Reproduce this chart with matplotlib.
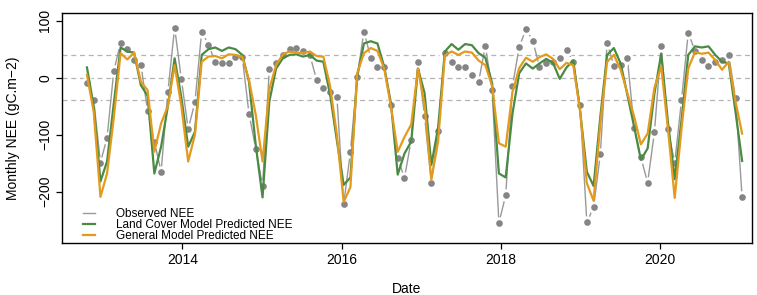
import numpy as np
import pandas as pd
import matplotlib.pyplot as plt

plt.rcParams['font.family'] = ['Liberation Sans', 'DejaVu Sans']

# one value per 31-day step, starting late Oct 2012
start = "2012-10-20"
step_days = 31
obs = [-9, -39, -149, -105, 12, 61, 51, 31, 23, -58, -112, -165, -25, 88, -3,
       -90, -43, 81, 58, 28, 25, 26, 37, 37, -63, -125, -190, 15, 25, 40,
       51, 52, 46, 40, -4, -18, -25, -33, -222, -130, 2, 81, 35, 18, 19,
       -48, -141, -176, -109, 27, -68, -184, -93, 44, 28, 19, 18, 5, -7, 56,
       -22, -255, -206, -15, 54, 85, 65, 19, 25, 27, 35, 49, 28, -48, -254,
       -227, -134, 61, 21, 22, 34, -88, -140, -184, -96, 56, -90, -150, -40, 79,
       47, 31, 21, 28, 31, 40, -36, -210]
lc_pred = [18, -50, -182, -147, -45, 53, 46, 44, -13, -32, -168, -121, -50, 34, -35,
           -121, -95, 40, 50, 53, 47, 53, 50, 40, -7, -118, -210, -42, 16, 34,
           40, 41, 37, 40, 30, 28, -30, -110, -188, -175, 2, 60, 64, 60, 19,
           -45, -170, -133, -112, 16, -27, -153, -88, 46, 59, 49, 59, 57, 43, 35,
           -10, -168, -175, -63, 8, 25, 16, 25, 33, 26, -2, 18, 30, -57, -165,
           -190, -68, 40, 52, 25, -30, -86, -144, -124, -28, 42, -78, -178, -75, 40,
           55, 53, 55, 40, 28, 25, -60, -146]
gm_pred = [5, -60, -209, -168, -70, 43, 32, 44, -7, -22, -130, -80, -50, 22, -50,
           -147, -100, 28, 37, 38, 34, 41, 40, 37, -4, -65, -147, -20, 22, 41,
           46, 44, 43, 46, 38, 37, -15, -100, -218, -192, 8, 43, 52, 47, 16,
           -51, -130, -104, -82, 16, -48, -179, -112, 39, 46, 40, 46, 44, 30, 22,
           -15, -115, -121, -25, 17, 35, 28, 36, 41, 33, 15, 26, 22, -57, -185,
           -216, -80, 28, 40, 14, -27, -68, -117, -98, -18, 20, -90, -211, -90, 16,
           45, 42, 44, 31, 14, 28, -42, -98]

dates = pd.Timestamp(start) + pd.to_timedelta(np.arange(len(obs)) * step_days, unit="D")
t = dates.year + (dates.dayofyear - 1) / 365.25

fig = plt.figure(figsize=(7.57, 2.95), dpi=100)
ax = fig.add_axes([62 / 757, 1 - 243 / 295, 690 / 757, 230 / 295])

for yv in [40, 0, -40]:
    ax.axhline(yv, color="#b4b4b4", ls=(0, (4, 3)), lw=0.9, zorder=0)

# observed: R type="b" look (line with gaps round the points)
ax.plot(t, obs, color="#999999", lw=1.0, zorder=1, label="Observed NEE")
ax.plot(t, obs, ls="none", marker="o", ms=9, mfc="white", mec="none", zorder=1.5)
ax.plot(t, obs, ls="none", marker="o", ms=4.8, mfc="#858585", mec="none", zorder=2)

ax.plot(t, lc_pred, color="#4a8a44", lw=1.6, zorder=3,
        label="Land Cover Model Predicted NEE")
ax.plot(t, gm_pred, color="#e49a1c", lw=1.6, zorder=4,
        label="General Model Predicted NEE")

ax.set_xlim(2014 - 120.3 / 79.6, 2014 + 569.7 / 79.6)
ax.set_ylim(-290, 113.5)
ax.set_xticks([2014, 2016, 2018, 2020])
ax.set_xticklabels(["2014", "2016", "2018", "2020"])
ax.set_yticks([100, 0, -100, -200])
ax.set_yticklabels(["100", "0", "\u2212100", "\u2212200"], rotation=90, va="center")
ax.tick_params(axis="both", length=4, width=0.9, labelsize=10, pad=3)
for s in ax.spines.values():
    s.set_linewidth(1.0)

ax.set_xlabel("Date", fontsize=10, labelpad=11)
ax.set_ylabel("Monthly NEE (gC.m\u22122)", fontsize=10, labelpad=13)

ax.legend(loc="lower left", bbox_to_anchor=(0.03, 0.005), frameon=False,
          fontsize=8.5, handlelength=1.0, handletextpad=1.8,
          labelspacing=-0.1, borderpad=0, borderaxespad=0)

fig.savefig("out.png", dpi=100)
